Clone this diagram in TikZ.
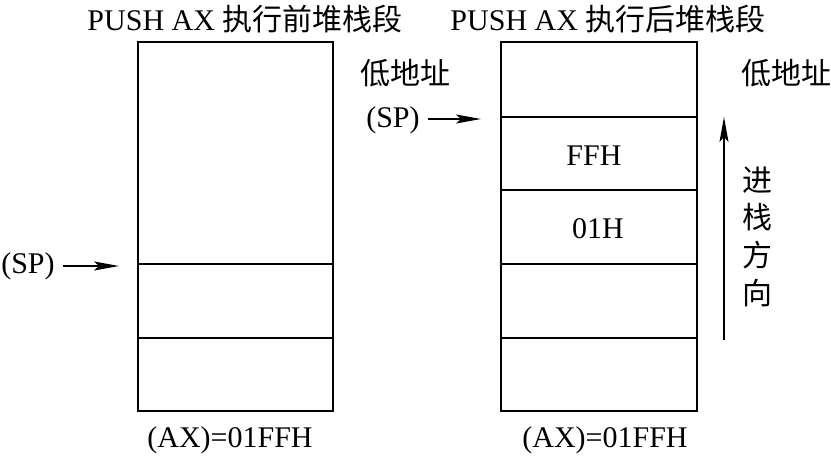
\documentclass[tikz,border=0pt]{standalone}
\usepackage{fontspec}
\setmainfont{Liberation Serif}
\newfontfamily\cjk{Noto Sans CJK SC}
\usepackage{tikz}
\usetikzlibrary{arrows.meta}

\tikzset{
  lbl/.style={font=\fontsize{30}{33}\selectfont,inner sep=0pt},
  stkbox/.style={line width=1.8pt},
  stkrow/.style={line width=1.1pt},
  ptr/.style={line width=1.3pt,-{Stealth[length=25pt,width=9pt,inset=5pt]}}
}

\begin{document}
\begin{tikzpicture}[x=1pt,y=-1pt]
  \useasboundingbox (0,0) rectangle (831,457);
  % stack before PUSH
  \draw[stkbox] (138,42) rectangle (333,411);
  \foreach \yy in {264,338}{\draw[stkrow] (138,\yy) -- (333,\yy);}
  % stack after PUSH
  \draw[stkbox] (501,42) rectangle (697,411);
  \foreach \yy in {117,190,264,338}{\draw[stkrow] (501,\yy) -- (697,\yy);}
  % titles
  \node[lbl] (ttlA) at (245,19) {PUSH AX {\cjk 执行前堆栈段}};
  \node[lbl] (ttlB) at (608,19) {PUSH AX {\cjk 执行后堆栈段}};
  \node[lbl] (lowA) at (405,73) {\cjk 低地址};
  \node[lbl] (lowB) at (786,73) {\cjk 低地址};
  % contents
  \node[lbl] (hiB) at (594,156) {FFH};
  \node[lbl] (loB) at (598,229) {01H};
  \node[lbl] (axA) at (230,440) {(AX)=01FFH};
  \node[lbl] (axB) at (605,440) {(AX)=01FFH};
  % stack pointers
  \node[lbl] (spA) at (28,266) {(SP)};
  \coordinate (spAend) at (119,266);
  \draw[ptr] ([xshift=8pt]spA.east) -- (spAend);
  \node[lbl] (spB) at (393,120) {(SP)};
  \coordinate (spBend) at (481,119);
  \draw[ptr] ([xshift=8pt]spB.east |- spBend) -- (spBend);
  % push direction
  \coordinate (dirlo) at (724,340); \coordinate (dirhi) at (724,117);
  \draw[ptr] (dirlo) -- (dirhi);
  \foreach \ch/\yy [count=\i] in {进/180,栈/217,方/255,向/293}{\node[lbl] (dir\i) at (757,\yy) {\cjk \ch};}
\end{tikzpicture}
\end{document}
